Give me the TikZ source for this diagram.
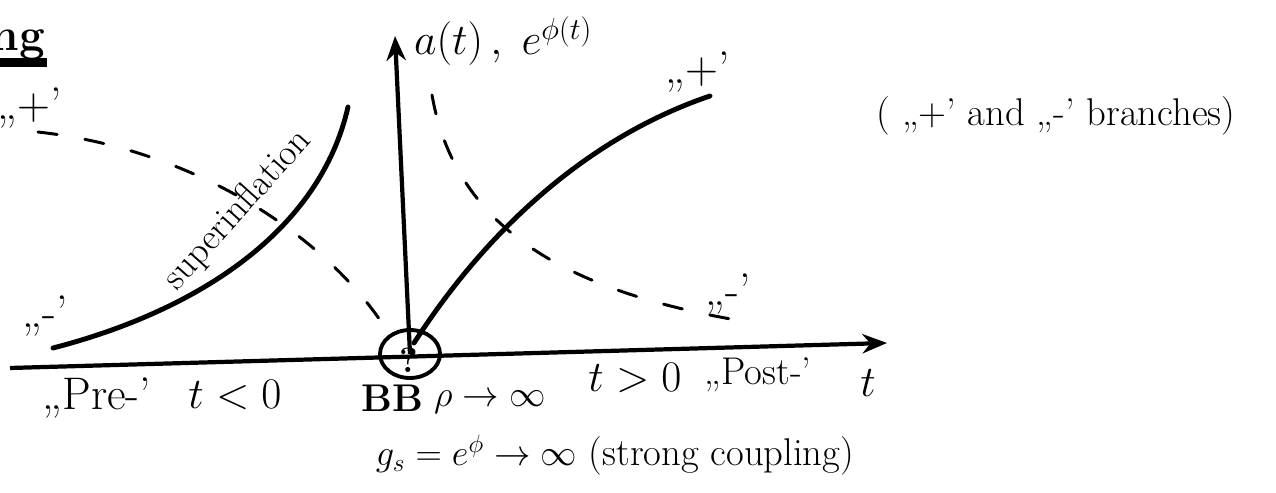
\documentclass[tikz,border=0pt]{standalone}
\usepackage{tikz}
\usetikzlibrary{arrows.meta,shapes.geometric}
\usepackage{amsmath}

\begin{document}
\begin{tikzpicture}[x=0.02cm,y=-0.02cm,
    axis/.style={line width=2.4pt,-{Stealth[length=14pt,width=11pt]}},
    branch/.style={line width=2.8pt,line cap=round},
    dashbranch/.style={line width=1.7pt,line cap=round,dash pattern=on 11pt off 16pt},
    lbl/.style={font=\fontsize{26}{30}\selectfont,inner sep=1pt},
    small/.style={font=\fontsize{22}{26}\selectfont,inner sep=1pt}]
    \useasboundingbox (0,0) rectangle (1276,493);

    % Big Bang point and axes
    \node[draw, ellipse, line width=2.2pt, minimum width=1.2cm, minimum height=0.96cm] (bb) at (410,354) {};
    \node[font=\fontsize{20}{22}\selectfont\bfseries, inner sep=0pt] (qm) at (409,360) {?};
    \coordinate (tstart) at (10,368);
    \coordinate (ttip) at (887,343);
    \coordinate (atip) at (395,36);
    \draw[axis] (tstart) -- (ttip);
    \draw[axis] (bb.center) -- (atip);

    % Axis labels
    \node[lbl, anchor=south west] (ylab) at (412,68) {$a(t)\,,\;e^{\phi(t)}$};
    \node[lbl] (tlab) at (868,383) {$t$};

    % Branches before the Big Bang
    \draw[branch] (53,348) .. controls (200,310) and (320,230) .. (348,107);
    \draw[dashbranch] (38,132) .. controls (200,150) and (330,240) .. (388,332);
    \node[small, rotate=48] (super) at (238,210) {\fontsize{21}{24}\selectfont superinflation};
    \node[lbl] (plusL) at (30,108) {„+'};
    \node[lbl] (minusL) at (45,316) {„-'};

    % Branches after the Big Bang
    \draw[branch] (414,343) .. controls (480,240) and (580,140) .. (710,96);
    \draw[dashbranch] (432,95) .. controls (455,225) and (560,290) .. (742,321);
    \node[lbl] (plusR) at (698,72) {„+'};
    \node[lbl] (minusR) at (728,294) {„-'};

    % Labels under the time axis
    \node[lbl] (pre) at (97,398) {„Pre-'};
    \node[lbl] (tneg) at (235,395) {$t<0$};
    \node[small] (bblab) at (392,398) {\textbf{BB}};
    \node[small] (rho) at (490,402) {$\rho\to\infty$};
    \node[lbl] (tpos) at (635,378) {$t>0$};
    \node[small] (post) at (758,375) {„Post-'};
    \node[small] (coupling) at (615,455) {$g_s=e^{\phi}\to\infty$ (strong coupling)};

    % Note on the right
    \node[small] (note) at (1056,116) {( „+' and „-' branches)};

    % Cut-off heading at top left
    \node[lbl] (ngtag) at (18,45) {\textbf{ng}};
    \draw[line width=5pt] (ngtag.south west) -- (ngtag.south east);
\end{tikzpicture}
\end{document}
